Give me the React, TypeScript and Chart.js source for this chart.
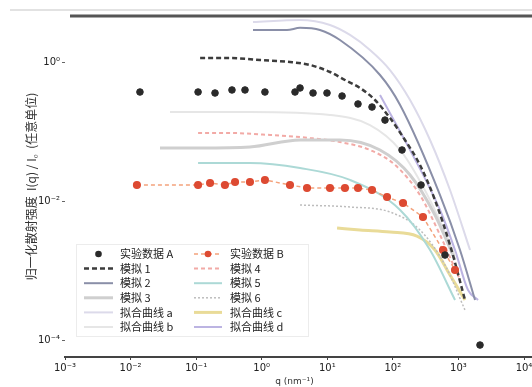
import React, { useEffect, useRef } from "react";
import { Chart, registerables } from "chart.js";

Chart.register(...registerables);

// ---- axis ticks / titles ----
const xTickValues = [1e-3, 1e-2, 1e-1, 1, 10, 100, 1e3, 1e4];
const xTickLabels = ["10⁻³", "10⁻²", "10⁻¹", "10⁰", "10¹", "10²", "10³", "10⁴"];
const yTickValues = [1e-4, 1e-2, 1];
const yTickLabels = ["10⁻⁴", "10⁻²", "10⁰"];
const xTitle = "q (nm⁻¹)";
const yTitle = "归一化散射强度  I(q) / I₀  (任意单位)";

// ---- legend labels (left column first, then right column) ----
const legendLabels = [
  "实验数据 A",
  "模拟 1",
  "模拟 2",
  "模拟 3",
  "拟合曲线 a",
  "拟合曲线 b",
  "实验数据 B",
  "模拟 4",
  "模拟 5",
  "模拟 6",
  "拟合曲线 c",
  "拟合曲线 d",
];

// ---- series values ----
const expAX = [0.0139, 0.107, 0.194, 0.352, 0.556, 1.12, 3.22, 3.84, 6.06, 9.9, 16.8, 29.4, 48.1, 75.9, 138, 269, 624, 2133];
const expAY = [0.37, 0.37, 0.358, 0.396, 0.396, 0.37, 0.37, 0.423, 0.358, 0.358, 0.324, 0.249, 0.225, 0.146, 0.0542, 0.017, 0.00167, 0.0000847];

const sim1X = [0.115, 0.328, 0.942, 2.7, 5.45, 11.0, 18.6, 31.6, 53.4, 90.5, 153, 259, 439, 744, 1259];
const sim1Y = [1.14, 1.14, 1.07, 1.0, 0.906, 0.718, 0.551, 0.423, 0.284, 0.156, 0.0755, 0.033, 0.0103, 0.00233, 0.000377];

const sim2X = [0.736, 1.34, 2.43, 3.84, 7.74, 15.6, 63.7, 129, 524, 1057, 1791];
const sim2Y = [2.89, 2.89, 2.89, 3.1, 2.89, 2.07, 0.65, 0.241, 0.0122, 0.00197, 0.000377];

const sim3X = [0.0281, 0.115, 0.662, 3.84, 15.6, 63.7, 183, 439, 887];
const sim3Y = [0.0579, 0.0579, 0.0598, 0.0755, 0.0755, 0.0542, 0.0237, 0.00629, 0.00142];

const fitAX = [0.736, 3.84, 11.0, 22.2, 44.8, 90.5, 183, 369, 744, 1503];
const fitAY = [3.76, 4.02, 3.41, 2.45, 1.49, 0.767, 0.284, 0.0755, 0.0144, 0.00197];

const fitBX = [0.0399, 0.662, 11.0, 44.8, 129, 369, 887];
const fitBY = [0.191, 0.191, 0.173, 0.124, 0.0542, 0.0103, 0.00167];

const expBX = [0.0125, 0.107, 0.163, 0.275, 0.392, 0.662, 1.12, 2.7, 4.91, 11.0, 18.6, 29.4, 48.1, 81.5, 143, 288, 582, 887];
const expBY = [0.017, 0.017, 0.0182, 0.017, 0.0188, 0.0188, 0.0201, 0.017, 0.0154, 0.0154, 0.0154, 0.0154, 0.0144, 0.0114, 0.00935, 0.00589, 0.00197, 0.00102];

const sim4X = [0.107, 0.328, 1.34, 5.45, 15.6, 44.8, 108, 259, 524, 1057];
const sim4Y = [0.0951, 0.0951, 0.0891, 0.0806, 0.0706, 0.0542, 0.033, 0.0122, 0.00324, 0.00073];

const sim5X = [0.107, 0.662, 3.84, 22.2, 129, 369, 887];
const sim5Y = [0.0352, 0.0352, 0.0298, 0.0201, 0.00743, 0.00197, 0.000377];

const sim6X = [3.84, 22.2, 90.5, 259, 624, 1259];
const sim6Y = [0.00875, 0.0082, 0.00695, 0.00383, 0.0012, 0.00027];

const fitCX = [14.1, 31.6, 90.5, 233, 439, 744, 1259];
const fitCY = [0.00409, 0.00383, 0.00358, 0.00313, 0.00197, 0.000861, 0.000377];

const fitDX = [63.7, 183, 524, 887, 1400, 1991];
const fitDY = [0.335, 0.0542, 0.00743, 0.00197, 0.000524, 0.000377];

const zip = (xs: number[], ys: number[]) => xs.map((x, i) => ({ x, y: ys[i] }));

const twoColLegend = {
  id: "twoColLegend",
  afterDraw(chart: any) {
    const ctx = chart.ctx;
    const ds = chart.data.datasets;
    ctx.save();
    ctx.fillStyle = "rgba(255,255,255,0.9)";
    ctx.strokeStyle = "#ececec";
    ctx.lineWidth = 1;
    ctx.fillRect(76, 244, 232, 92);
    ctx.strokeRect(76.5, 244.5, 232, 92);
    const cols = [
      { s0: 84, s1: 113, tx: 120 },
      { s0: 194, s1: 222, tx: 230 },
    ];
    for (let i = 0; i < ds.length; i++) {
      const c = cols[i < 6 ? 0 : 1];
      const row = i % 6;
      const y = 254 + row * 14.6;
      const d = ds[i];
      const isMarker = (d.pointRadius || 0) > 2;
      if (d.showLine !== false) {
        ctx.beginPath();
        ctx.setLineDash(d.borderDash || []);
        ctx.strokeStyle = d.borderColor;
        ctx.lineWidth = Math.min(d.borderWidth || 1, 3);
        ctx.moveTo(c.s0, y);
        ctx.lineTo(c.s1, y);
        ctx.stroke();
        ctx.setLineDash([]);
      }
      if (isMarker) {
        ctx.beginPath();
        ctx.fillStyle = d.pointBackgroundColor;
        ctx.arc((c.s0 + c.s1) / 2, y, d.pointRadius, 0, Math.PI * 2);
        ctx.fill();
      }
      ctx.fillStyle = "#222";
      ctx.font = "11px 'Noto Sans CJK SC'";
      ctx.textBaseline = "middle";
      ctx.textAlign = "left";
      ctx.fillText(legendLabels[i], c.tx, y);
    }
    ctx.restore();
  },
};

const frameLines = {
  id: "frameLines",
  beforeDraw(chart: any) {
    const ctx = chart.ctx;
    const ca = chart.chartArea;
    ctx.save();
    ctx.strokeStyle = "#e2e2e2";
    ctx.lineWidth = 2;
    ctx.beginPath();
    ctx.moveTo(10, 10);
    ctx.lineTo(chart.width, 10);
    ctx.stroke();
    ctx.strokeStyle = "#555";
    ctx.lineWidth = 3;
    ctx.beginPath();
    ctx.moveTo(ca.left + 5, ca.top);
    ctx.lineTo(chart.width, ca.top);
    ctx.stroke();
    ctx.strokeStyle = "#444";
    ctx.lineWidth = 2;
    ctx.beginPath();
    ctx.moveTo(ca.right, ca.bottom);
    ctx.lineTo(chart.width, ca.bottom);
    ctx.stroke();
    ctx.restore();
  },
};

export default function App() {
  const ref = useRef<HTMLCanvasElement | null>(null);

  useEffect(() => {
    if (!ref.current) return;
    const line = (i: number, xs: number[], ys: number[], color: string, width: number, dash: number[] = []) => ({
      label: legendLabels[i],
      data: zip(xs, ys),
      borderColor: color,
      backgroundColor: color,
      borderWidth: width,
      borderDash: dash,
      pointRadius: 0,
      showLine: true,
      fill: false,
      cubicInterpolationMode: "monotone",
      order: 2,
    });
    const chart = new Chart(ref.current, {
      type: "scatter",
      data: {
        datasets: [
          {
            label: legendLabels[0],
            data: zip(expAX, expAY),
            showLine: false,
            pointRadius: 3.3,
            pointBackgroundColor: "#2a2a2a",
            pointBorderColor: "#2a2a2a",
            borderColor: "#2a2a2a",
            order: 0,
          },
          line(1, sim1X, sim1Y, "#3c3c3c", 2.5, [5, 3]),
          line(2, sim2X, sim2Y, "#8a8fa8", 2),
          line(3, sim3X, sim3Y, "#cfcfcf", 3),
          line(4, fitAX, fitAY, "#dcdaea", 2),
          line(5, fitBX, fitBY, "#e6e6e6", 2),
          {
            label: legendLabels[6],
            data: zip(expBX, expBY),
            showLine: true,
            borderColor: "#f4a27c",
            borderWidth: 1.5,
            borderDash: [4, 3],
            pointRadius: 3.3,
            pointBackgroundColor: "#dd4a32",
            pointBorderColor: "#dd4a32",
            order: 0,
          },
          line(7, sim4X, sim4Y, "#f2aaa6", 2, [4, 3]),
          line(8, sim5X, sim5Y, "#acd9d6", 2),
          line(9, sim6X, sim6Y, "#bdbdbd", 1.5, [2, 2]),
          line(10, fitCX, fitCY, "#e9db98", 3),
          line(11, fitDX, fitDY, "#bcb4e2", 2),
        ],
      },
      options: {
        animation: false,
        responsive: true,
        maintainAspectRatio: false,
        layout: { padding: { top: 16, right: 8, left: 0, bottom: 0 } },
        plugins: {
          legend: { display: false },
          tooltip: { enabled: false },
        },
        scales: {
          x: {
            type: "logarithmic",
            min: 1e-3,
            max: 1e4,
            afterBuildTicks: (s: any) => {
              s.ticks = xTickValues.map((v) => ({ value: v }));
            },
            afterFit: (s: any) => {
              s.height = 30;
              s.paddingLeft = 0;
              s.paddingRight = 0;
            },
            ticks: {
              autoSkip: false,
              maxRotation: 0,
              padding: 2,
              color: "#222",
              font: { family: "DejaVu Sans", size: 10 },
              callback: (_v: any, i: number) => xTickLabels[i],
            },
            grid: { drawOnChartArea: false, drawTicks: true, tickLength: 3, color: "#444" },
            border: { display: true, color: "#444", width: 2 },
            title: {
              display: true,
              text: xTitle,
              color: "#333",
              font: { family: "DejaVu Sans", size: 9 },
              padding: { top: -2, bottom: 0 },
            },
          },
          y: {
            type: "logarithmic",
            min: 5.7e-5,
            max: 4.59,
            afterBuildTicks: (s: any) => {
              s.ticks = yTickValues.map((v) => ({ value: v }));
            },
            afterFit: (s: any) => {
              s.width = 65;
            },
            ticks: {
              autoSkip: false,
              padding: 2,
              color: "#222",
              font: { family: "DejaVu Sans", size: 10 },
              callback: (_v: any, i: number) => yTickLabels[i],
            },
            grid: { drawOnChartArea: false, drawTicks: true, tickLength: 3, color: "#666" },
            border: { display: false },
            title: {
              display: true,
              text: yTitle,
              color: "#333",
              font: { family: "Noto Sans CJK SC", size: 12 },
              padding: { top: 24, bottom: 0 },
            },
          },
        },
      },
      plugins: [frameLines, twoColLegend],
    });
    return () => chart.destroy();
  }, []);

  return (
    <div style={{ position: "fixed", left: 0, top: 0, width: 532, height: 387, background: "#fff" }}>
      <canvas ref={ref} />
    </div>
  );
}
